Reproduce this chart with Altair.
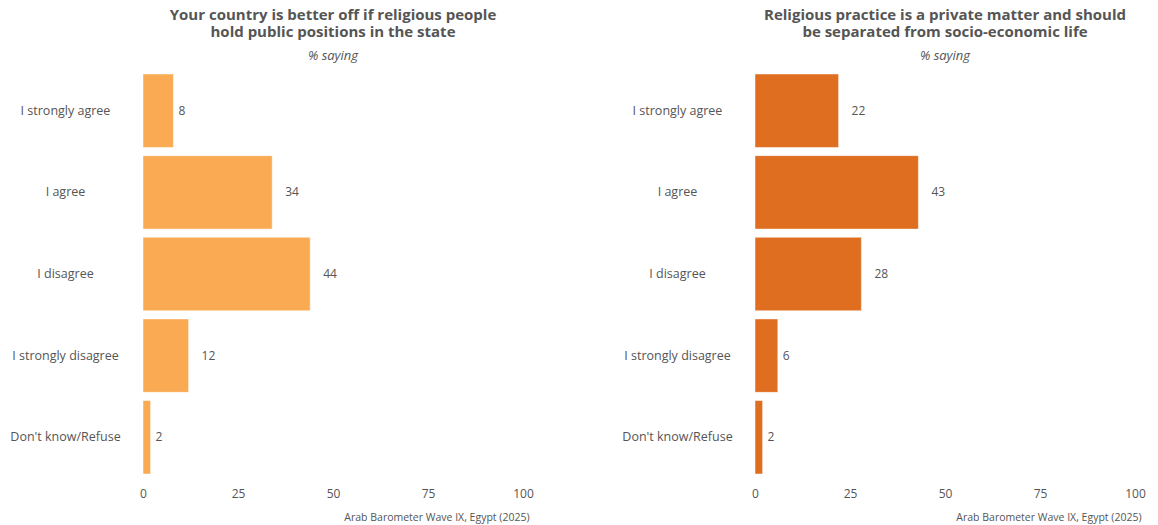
import altair as alt
import pandas as pd

categories = ["I strongly agree", "I agree", "I disagree", "I strongly disagree", "Don't know/Refuse"]
left_values = [8, 34, 44, 12, 2]
right_values = [22, 43, 28, 6, 2]
left_title = ["Your country is better off if religious people", "hold public positions in the state"]
right_title = ["Religious practice is a private matter and should", "be separated from socio-economic life"]
subtitle = "% saying"
caption = "Arab Barometer Wave IX, Egypt (2025)"
left_color = "#F9AA53"
right_color = "#DF6E21"

FONT = "Open Sans"
TEXT = "#555555"


def panel(values, title, color):
    df = pd.DataFrame({"category": categories, "value": values})
    y = alt.Y("category:N", sort=categories, title=None,
              scale=alt.Scale(paddingInner=0.1, paddingOuter=0.0),
              axis=alt.Axis(domain=False, ticks=False, labelAlign="center",
                            labelPadding=78, labelFontSize=12.5, labelColor=TEXT,
                            labelFont=FONT, labelLimit=200))
    x = alt.X("value:Q", title=caption,
              scale=alt.Scale(domain=[0, 100], nice=False),
              axis=alt.Axis(values=[0, 25, 50, 75, 100], domain=False, ticks=False,
                            grid=False, labelFlush=False, labelFontSize=12, labelColor=TEXT,
                            labelFont=FONT, labelPadding=14, titleFontSize=10.5,
                            titleFontWeight="normal", titleColor=TEXT, titleFont=FONT,
                            titleAnchor="end", titleAlign="right", titleX=386,
                            titlePadding=13))
    base = alt.Chart(df)
    bars = base.mark_bar(color=color, stroke="white", strokeWidth=0.8, strokeOpacity=0.6).encode(x=x, y=y)
    t1 = base.transform_filter("datum.value < 10").mark_text(
        align="left", dx=5, fontSize=12, color=TEXT, font=FONT
    ).encode(x="value:Q", y=alt.Y("category:N", sort=categories), text="value:Q")
    t2 = base.transform_filter("datum.value >= 10").mark_text(
        align="left", dx=13, fontSize=12, color=TEXT, font=FONT
    ).encode(x="value:Q", y=alt.Y("category:N", sort=categories), text="value:Q")
    return alt.layer(bars, t1, t2).properties(
        width=380, height=400,
        title=alt.TitleParams(text=title, subtitle=subtitle, anchor="middle",
                              fontSize=15, fontWeight="bold", color=TEXT, font=FONT,
                              subtitleFont=FONT, subtitleFontSize=13,
                              subtitleFontStyle="italic", subtitleColor=TEXT,
                              subtitlePadding=10, offset=11, lineHeight=17)
    )


chart = alt.hconcat(
    panel(left_values, left_title, left_color),
    panel(right_values, right_title, right_color),
    spacing=87,
).properties(padding={"left": 9, "top": 7, "right": 5, "bottom": 5}).configure_view(stroke=None)

chart.save("out.html", embed_options={"renderer": "svg", "actions": False})
